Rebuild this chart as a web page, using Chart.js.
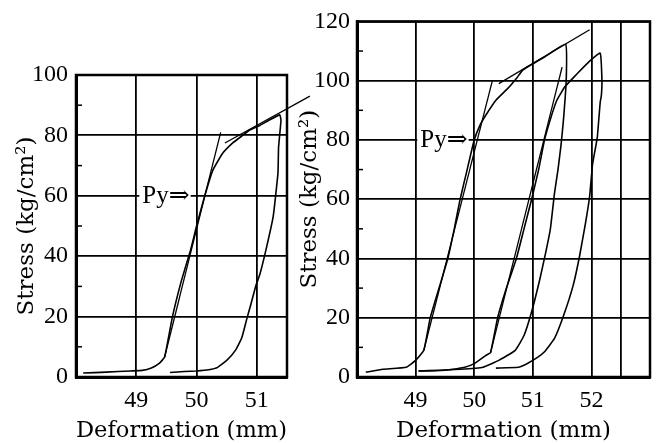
<!DOCTYPE html>
<html>
<head>
<meta charset="utf-8">
<script src="https://cdn.jsdelivr.net/npm/chart.js@4/dist/chart.umd.min.js"></script>
<style>
html, body { margin: 0; padding: 0; background: #fff; }
#wrap { position: relative; width: 659px; height: 443px; overflow: hidden; background: #fff; }
canvas { position: absolute; top: 0; }
#left { left: 0; }
#right { left: 290px; }
</style>
</head>
<body>
<div id="wrap">
  <canvas id="left" width="330" height="443"></canvas>
  <canvas id="right" width="369" height="443"></canvas>
</div>
<script>
// left test: one load / unload loop
const leftCurveX = [48.12, 48.5, 48.9, 49.1, 49.25, 49.38, 49.47, 49.6, 49.75, 49.9, 50.0, 50.13, 50.27, 50.43, 50.6, 50.75, 50.88, 51.05, 51.2, 51.38,
                    51.4, 51.36, 51.35, 51.27, 51.15, 51.05, 50.98, 50.9, 50.83, 50.75, 50.65, 50.5, 50.35, 50.2, 50.0, 49.8, 49.56];
const leftCurveY = [1.3, 1.6, 2.0, 2.2, 3.0, 4.5, 6.6, 20, 32, 42, 50, 59.6, 68.5, 74, 77.5, 79.8, 81.8, 83.3, 85, 86.8,
                    85, 76, 67.5, 53, 42, 34, 30, 24, 19, 13, 9, 5.5, 3.2, 2.4, 2.0, 1.8, 1.5];
const leftTangent1X = [49.47, 50.4];
const leftTangent1Y = [6.6, 81];
const leftTangent2X = [50.47, 51.88];
const leftTangent2Y = [77.5, 93];

// right test: two loops
const rightLoop1X = [48.15, 48.44, 48.84, 49.0, 49.14, 49.25, 49.4, 49.55, 49.66, 49.76, 49.88, 50.0, 50.1, 50.2, 50.37, 50.57, 50.73, 50.83, 51.2, 51.56,
                     51.57, 51.52, 51.48, 51.43, 51.37, 51.3, 51.22, 51.12, 50.98, 50.85, 50.7, 50.42, 50.15, 49.76, 49.4, 49.05];
const rightLoop1Y = [1.6, 2.6, 3.3, 5.6, 9, 20, 30, 40, 50, 60, 70, 80, 85, 88.4, 93.4, 97.3, 101, 103.6, 108, 112.3,
                     100, 86, 78, 70, 62, 50, 42, 33, 22, 14, 9, 5.6, 3.3, 2.6, 2.3, 2.0];
const rightLoop2X = [49.05, 49.5, 49.84, 50.0, 50.2, 50.28, 50.4, 50.55, 50.72, 50.85, 50.98, 51.1, 51.2, 51.3, 51.41, 51.55, 51.74, 51.97, 52.15,
                     52.18, 52.17, 52.15, 52.1, 52.02, 51.97, 51.9, 51.8, 51.69, 51.53, 51.37, 51.2, 51.08, 50.9, 50.75, 50.37];
const rightLoop2Y = [2.0, 2.3, 3.3, 4.5, 7.3, 8.3, 20, 30, 40, 50, 60, 70, 80, 87, 93.4, 98, 102, 106.6, 109.3,
                     100, 95, 92.7, 80.8, 71.8, 61, 52, 41, 31, 21, 13, 8.5, 6.6, 4.5, 3.3, 3.0];
const rightTangent1X = [49.14, 50.31];
const rightTangent1Y = [9, 100];
const rightTangent2X = [50.28, 51.5];
const rightTangent2Y = [8.3, 104.6];
const rightTangent3X = [50.42, 51.97];
const rightTangent3Y = [99, 117.2];

const xTickLabels = [49, 50, 51, 52];
const yTickLabels = [0, 20, 40, 60, 80, 100, 120];
const pyText = 'Py⇒';

function toPoints(xs, ys) {
    return xs.map((x, i) => ({ x: x, y: ys[i] }));
}

function curve(xs, ys) {
    return { data: toPoints(xs, ys), borderColor: '#000', borderWidth: 1.6, pointRadius: 0, tension: 0.12, fill: false };
}

function straight(xs, ys) {
    return { data: toPoints(xs, ys), borderColor: '#000', borderWidth: 1.3, pointRadius: 0, tension: 0, fill: false, clip: false };
}

function isInt(v) {
    return Math.abs(v - Math.round(v)) < 1e-6;
}

// frame, inner minor ticks and the Py label
const framePlugin = {
    id: 'frame',
    beforeDatasetsDraw(chart, args, opts) {
        const { ctx, chartArea: a, scales } = chart;
        ctx.save();
        ctx.strokeStyle = '#000';
        ctx.lineWidth = 2.5;
        ctx.strokeRect(a.left, a.top, a.right - a.left, a.bottom - a.top);

        ctx.lineWidth = 1.5;
        for (let v = 10; v < scales.y.max; v += 20) {
            const py = scales.y.getPixelForValue(v);
            ctx.beginPath();
            ctx.moveTo(a.left, py);
            ctx.lineTo(a.left + 6, py);
            ctx.stroke();
        }

        if (opts.pyX !== undefined) {
            const px = scales.x.getPixelForValue(opts.pyX);
            const py = scales.y.getPixelForValue(opts.pyY);
            ctx.font = '25px "Liberation Serif", "DejaVu Serif", serif';
            const w = ctx.measureText(pyText).width;
            ctx.fillStyle = '#fff';
            ctx.fillRect(px - 3, py - 3, w + 4, 6);
            ctx.fillStyle = '#000';
            ctx.textBaseline = 'middle';
            ctx.textAlign = 'left';
            ctx.fillText(pyText, px, py + 1);
        }
        ctx.restore();
    }
};

function makeChart(id, datasets, cfg) {
    return new Chart(document.getElementById(id), {
        type: 'line',
        data: { datasets: datasets },
        plugins: [framePlugin],
        options: {
            responsive: false,
            animation: false,
            layout: { autoPadding: false, padding: { top: cfg.top, right: cfg.right, left: 0, bottom: 0 } },
            plugins: {
                legend: { display: false },
                tooltip: { enabled: false },
                frame: { pyX: cfg.pyX, pyY: cfg.pyY }
            },
            scales: {
                x: {
                    type: 'linear',
                    min: 48,
                    max: cfg.xMax,
                    afterFit(scale) { scale.height = 66; },
                    border: { color: '#000', width: 3 },
                    grid: {
                        drawTicks: false,
                        lineWidth: 1.8,
                        color: c => {
                            const v = c.tick.value;
                            if (v <= 48 || v >= cfg.xMax) return 'rgba(0,0,0,0)';
                            if (isInt(v) || cfg.extraLines.some(e => Math.abs(e - v) < 1e-6)) return '#000';
                            return 'rgba(0,0,0,0)';
                        }
                    },
                    ticks: {
                        stepSize: 0.5,
                        autoSkip: false,
                        maxRotation: 0,
                        padding: 9,
                        color: '#000',
                        font: { family: 'Liberation Serif', size: 24 },
                        callback: v => xTickLabels.find(t => Math.abs(t - v) < 1e-6 && v < cfg.xMax) !== undefined ? String(Math.round(v)) : ''
                    },
                    title: {
                        display: true,
                        text: 'Deformation (mm)',
                        color: '#000',
                        padding: { top: 0, bottom: 0 },
                        font: { family: 'DejaVu Serif', size: 23, lineHeight: 1 }
                    }
                },
                y: {
                    min: 0,
                    max: cfg.yMax,
                    afterFit(scale) { scale.width = cfg.yWidth; },
                    border: { color: '#000', width: 3 },
                    grid: {
                        drawTicks: false,
                        lineWidth: 1.8,
                        color: c => (c.tick.value > 0 && c.tick.value % 20 === 0) ? '#000' : 'rgba(0,0,0,0)'
                    },
                    ticks: {
                        stepSize: 10,
                        padding: cfg.yPad,
                        color: '#000',
                        font: { family: 'Liberation Serif', size: 24 },
                        callback: v => yTickLabels.includes(v) ? String(v) : ''
                    },
                    title: {
                        display: true,
                        text: 'Stress (kg/cm²)',
                        color: '#000',
                        padding: { top: cfg.titlePad, bottom: 0 },
                        font: { family: 'DejaVu Serif', size: 23, lineHeight: 1 }
                    }
                }
            }
        }
    });
}

makeChart('left', [
    curve(leftCurveX, leftCurveY),
    straight(leftTangent1X, leftTangent1Y),
    straight(leftTangent2X, leftTangent2Y)
], { top: 75, right: 43, xMax: 51.5, yMax: 100, yWidth: 76, yPad: 8, titlePad: 15.5, extraLines: [], pyX: 49.1, pyY: 60 });

makeChart('right', [
    curve(rightLoop1X, rightLoop1Y),
    curve(rightLoop2X, rightLoop2Y),
    straight(rightTangent1X, rightTangent1Y),
    straight(rightTangent2X, rightTangent2Y),
    straight(rightTangent3X, rightTangent3Y)
], { top: 15, right: 1, xMax: 53, yMax: 120, yWidth: 67, yPad: 7, titlePad: 8.5, extraLines: [52.5], pyX: 49.08, pyY: 80 });
</script>
</body>
</html>
